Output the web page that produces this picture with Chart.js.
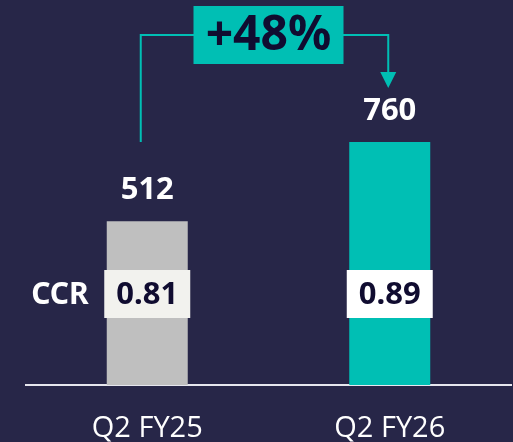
<!DOCTYPE html>
<html>
<head>
<meta charset="utf-8">
<script src="https://cdn.jsdelivr.net/npm/chart.js@4"></script>
<style>
  html, body { margin: 0; padding: 0; background: #272648; }
  #c { display: block; }
</style>
</head>
<body>
<canvas id="c" width="513" height="442"></canvas>
<script>
const categories = ['Q2 FY25', 'Q2 FY26'];
const values = [512, 760];
const ccrValues = ['0.81', '0.89'];
const ccrLabel = 'CCR';
const growthLabel = '+48%';

const BG = '#272648';
const TEAL = '#00BFB4';
const GRAY = '#BFBFBF';
const DARK = '#100C30';
const FONT = '"Noto Sans", "Open Sans", sans-serif';

const overlay = {
  id: 'overlay',
  beforeDraw(chart) {
    const ctx = chart.ctx;
    ctx.save();
    ctx.fillStyle = BG;
    ctx.fillRect(0, 0, chart.width, chart.height);
    ctx.restore();
  },
  afterDatasetsDraw(chart) {
    const ctx = chart.ctx;
    const meta = chart.getDatasetMeta(0);
    const yScale = chart.scales.y;
    const base = yScale.getPixelForValue(0);
    const bars = meta.data;
    ctx.save();
    // value labels
    ctx.textAlign = 'center';
    ctx.textBaseline = 'middle';
    ctx.fillStyle = '#FFFFFF';
    ctx.font = 'bold 31px ' + FONT;
    bars.forEach((b, i) => ctx.fillText(String(values[i]), b.x, b.y - 31));
    // CCR boxes
    const boxFills = ['#F2F2EE', '#FFFFFF'];
    const cy = base - 91;
    bars.forEach((b, i) => {
      const w = b.width + 5, h = 48;
      ctx.fillStyle = boxFills[i];
      ctx.fillRect(b.x - w / 2, cy - h / 2, w, h);
      ctx.fillStyle = DARK;
      ctx.font = 'bold 31px ' + FONT;
      ctx.fillText(ccrValues[i], b.x, cy + 1);
    });
    // CCR label
    ctx.fillStyle = '#FFFFFF';
    ctx.textAlign = 'right';
    ctx.font = 'bold 30px ' + FONT;
    ctx.fillText(ccrLabel, bars[0].x - bars[0].width / 2 - 18, cy + 1);
    // growth arrow
    const x1 = bars[0].x - 6.5;
    const x2 = bars[1].x - 1.5;
    const yTop = 35;
    const yStart = yScale.getPixelForValue(values[1]);
    const mx = (bars[0].x + bars[1].x) / 2;
    const bw = 150, bh = 58;
    ctx.strokeStyle = TEAL;
    ctx.lineWidth = 2;
    ctx.beginPath();
    ctx.moveTo(x1, yStart);
    ctx.lineTo(x1, yTop);
    ctx.lineTo(x2, yTop);
    ctx.lineTo(x2, 73);
    ctx.stroke();
    ctx.fillStyle = TEAL;
    ctx.beginPath();
    ctx.moveTo(x2 - 8, 72);
    ctx.lineTo(x2 + 8, 72);
    ctx.lineTo(x2, 88);
    ctx.closePath();
    ctx.fill();
    ctx.fillRect(mx - bw / 2, yTop - bh / 2, bw, bh);
    ctx.fillStyle = DARK;
    ctx.textAlign = 'center';
    ctx.font = 'bold 48px ' + FONT;
    ctx.fillText(growthLabel, mx, yTop + 1);
    ctx.restore();
  }
};

new Chart(document.getElementById('c'), {
  type: 'bar',
  data: {
    labels: categories,
    datasets: [{
      data: values,
      backgroundColor: [GRAY, TEAL],
      borderWidth: 0,
      barPercentage: 0.334,
      categoryPercentage: 1
    }]
  },
  options: {
    responsive: false,
    animation: false,
    events: [],
    layout: { padding: { left: 26, right: 2, top: 0, bottom: 0 } },
    plugins: { legend: { display: false }, tooltip: { enabled: false } },
    scales: {
      x: {
        grid: { display: false },
        border: { display: true, color: '#E6E6EE', width: 2 },
        ticks: {
          color: '#FFFFFF',
          padding: 18,
          font: { family: '"Open Sans", "Noto Sans", sans-serif', size: 29, weight: 400 }
        },
        afterFit(s) { s.height = 57; }
      },
      y: { display: false, min: 0, max: 1204 }
    }
  },
  plugins: [overlay]
});
</script>
</body>
</html>
